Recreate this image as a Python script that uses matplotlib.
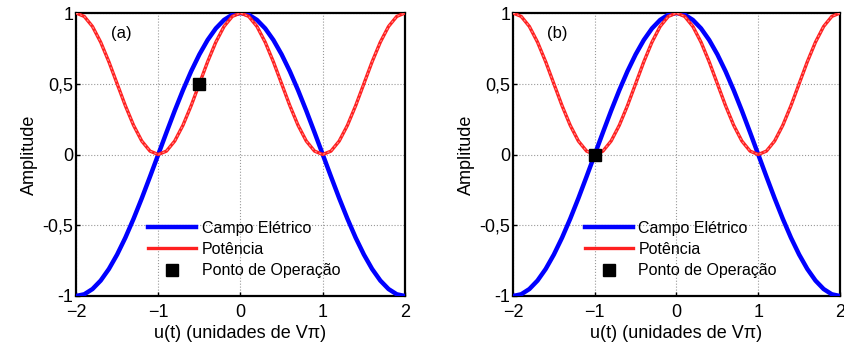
import matplotlib
matplotlib.use("Agg")
import matplotlib.pyplot as plt

plt.rcParams['font.family'] = ['Liberation Sans', 'DejaVu Sans']

# valores (passo de 0,1 em u)
u = [-2.0, -1.9, -1.8, -1.7, -1.6, -1.5, -1.4, -1.3, -1.2, -1.1, -1.0,
     -0.9, -0.8, -0.7, -0.6, -0.5, -0.4, -0.3, -0.2, -0.1, 0.0,
     0.1, 0.2, 0.3, 0.4, 0.5, 0.6, 0.7, 0.8, 0.9, 1.0,
     1.1, 1.2, 1.3, 1.4, 1.5, 1.6, 1.7, 1.8, 1.9, 2.0]
campo = [-1.0, -0.988, -0.951, -0.891, -0.809, -0.707, -0.588, -0.454, -0.309, -0.156, 0.0,
         0.156, 0.309, 0.454, 0.588, 0.707, 0.809, 0.891, 0.951, 0.988, 1.0,
         0.988, 0.951, 0.891, 0.809, 0.707, 0.588, 0.454, 0.309, 0.156, 0.0,
         -0.156, -0.309, -0.454, -0.588, -0.707, -0.809, -0.891, -0.951, -0.988, -1.0]
potencia = [1.0, 0.976, 0.905, 0.794, 0.655, 0.5, 0.345, 0.206, 0.095, 0.024, 0.0,
            0.024, 0.095, 0.206, 0.345, 0.5, 0.655, 0.794, 0.905, 0.976, 1.0,
            0.976, 0.905, 0.794, 0.655, 0.5, 0.345, 0.206, 0.095, 0.024, 0.0,
            0.024, 0.095, 0.206, 0.345, 0.5, 0.655, 0.794, 0.905, 0.976, 1.0]

paineis = ["(a)", "(b)"]
ponto_u = [-0.5, -1.0]
ponto_amp = [0.5, 0.0]

xticks = [-2, -1, 0, 1, 2]
yticks = [-1, -0.5, 0, 0.5, 1]
ytick_labels = ["-1", "-0,5", "0", "0,5", "1"]

fig = plt.figure(figsize=(8.45, 3.47), dpi=100)
W, H = 845, 347
posicoes = [(76, 405), (513, 840)]
top, bottom = 13, 296

for i in range(2):
    x0, x1 = posicoes[i]
    ax = fig.add_axes([x0 / W, 1 - bottom / H, (x1 - x0) / W, (bottom - top) / H])
    l1, = ax.plot(u, campo, color='#0000ff', lw=3.2, zorder=3)
    l2, = ax.plot(u, potencia, color='#ff2020', lw=2.4, zorder=4)
    ax.plot(u, potencia, color='#ff8a8a', lw=0.8, ls=(0, (2, 2)), zorder=4)
    l3, = ax.plot([ponto_u[i]], [ponto_amp[i]], 's', color='black', ms=9, zorder=5)

    ax.set_xlim(-2, 2)
    ax.set_ylim(-1, 1)
    ax.set_xticks(xticks)
    ax.set_yticks(yticks)
    ax.set_yticklabels(ytick_labels)
    ax.tick_params(direction='in', length=3, labelsize=13, width=1)
    ax.tick_params(axis='y', pad=2)
    ax.tick_params(axis='x', pad=6)
    ax.grid(True, color='#999999', ls=':', lw=0.8)
    for s in ax.spines.values():
        s.set_linewidth(1.6)
    ax.set_xlabel("u(t) (unidades de V\u03c0)", fontsize=13, labelpad=3)
    ax.set_ylabel("Amplitude", fontsize=13, labelpad=3)
    ax.text(0.105, 0.91, paineis[i], transform=ax.transAxes, fontsize=12)

    ax.legend([l1, l2, l3], ['Campo Elétrico', 'Potência', 'Ponto de Operação'],
              loc='lower left', bbox_to_anchor=(0.2, 0.04), frameon=False,
              fontsize=11.5, handlelength=3.0, handletextpad=0.35, labelspacing=0.4,
              borderaxespad=0)

fig.savefig("out.png", dpi=100)
